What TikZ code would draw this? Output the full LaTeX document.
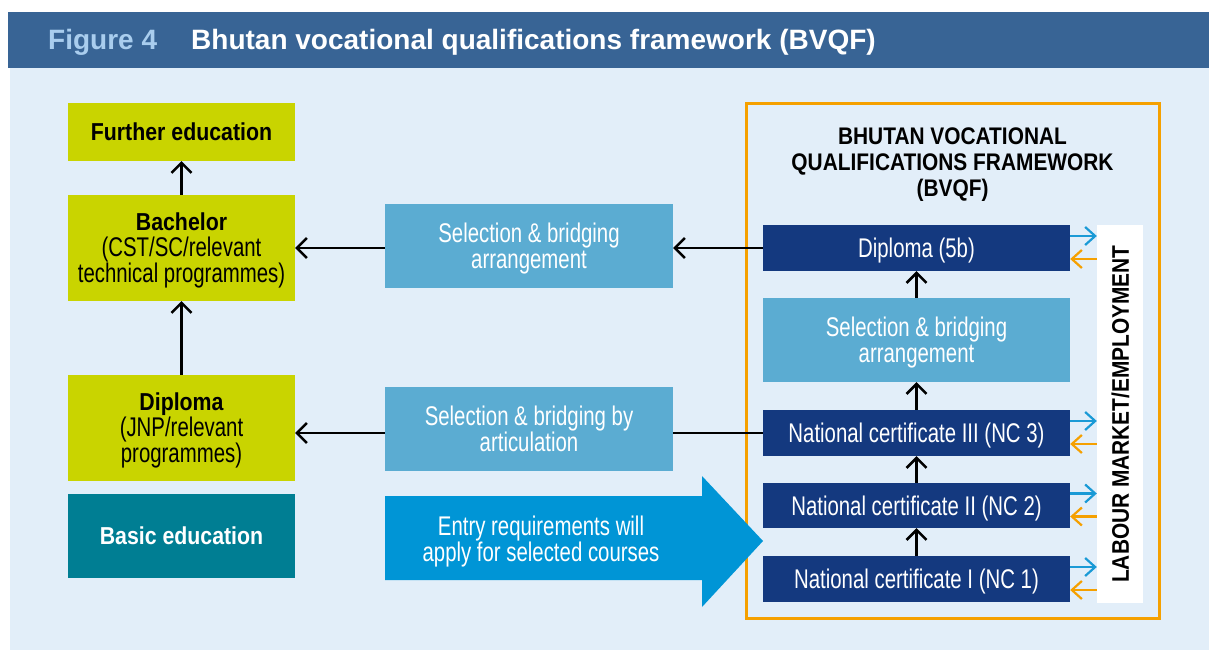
\documentclass[tikz,border=0pt]{standalone}
\usepackage{fontspec}
\setmainfont{Liberation Sans}[FakeStretch=0.755]
\newfontfamily\bdc{Liberation Sans}[FakeStretch=0.87]
\newfontfamily\hdr{Liberation Sans}
\usetikzlibrary{arrows.meta}
\definecolor{hdrblue}{HTML}{386495}
\definecolor{figblue}{HTML}{A9CDEE}
\definecolor{bgblue}{HTML}{E2EEF9}
\definecolor{ygreen}{HTML}{C9D400}
\definecolor{teal}{HTML}{007E93}
\definecolor{lblue}{HTML}{5BACD2}
\definecolor{navy}{HTML}{14397F}
\definecolor{bigblue}{HTML}{0095D6}
\definecolor{orng}{HTML}{F5A000}
\definecolor{sblue}{HTML}{1A9AD6}
\tikzset{
  rgtext/.style={font=\fontsize{27}{26}\selectfont},
  bx/.style={inner sep=0pt, align=center, rgtext},
  ybox/.style={bx, fill=ygreen, text=black, minimum width=227pt},
  tbox/.style={bx, fill=teal, text=white, minimum width=227pt},
  lbox/.style={bx, fill=lblue, text=white, minimum width=288pt, minimum height=84pt},
  nbox/.style={bx, fill=navy, text=white, minimum width=307pt, minimum height=46pt},
  rone/.style={text height=19.3pt, text depth=0pt},
  rtwo/.style={text height=45.3pt, text depth=0pt},
  bone/.style={text height=17.5pt, text depth=0pt},
  bthree/.style={text height=69.5pt, text depth=0pt},
  conn/.style={draw=black, line width=2.5pt, -{Straight Barb[length=10pt,width=20pt,line width=2.5pt]}},
  plainconn/.style={draw=black, line width=2.5pt},
  outarr/.style={draw=sblue, line width=2.2pt, -{Straight Barb[length=10pt,width=18pt,line width=2.2pt]}},
  inarr/.style={draw=orng, line width=2.2pt, -{Straight Barb[length=10pt,width=18pt,line width=2.2pt]}},
}
\newcommand{\bdtext}{\bdc\bfseries\fontsize{24.5}{26}\selectfont}
\begin{document}
\begin{tikzpicture}[x=1pt,y=-1pt]
\useasboundingbox (0,0) rectangle (1209,650);
% background
\fill[white] (0,0) rectangle (1209,650);
\fill[bgblue] (10,68) rectangle (1209,650);
\fill[hdrblue] (8,12) rectangle (1209,68);
\node[anchor=base west, inner sep=0pt, text=figblue, font=\hdr\bfseries\fontsize{28}{30}\selectfont] (fig) at (48,50) {Figure 4};
\node[anchor=base west, inner sep=0pt, text=white, font=\hdr\bfseries\fontsize{28}{30}\selectfont] (ttl) at (191,50) {Bhutan vocational qualifications framework (BVQF)};

% left column
\node[ybox, bone, minimum height=58pt] (further) at (181.5,132) {{\bdtext Further education}};
\node[ybox, bthree, minimum height=106pt] (bach) at (181.5,248) {{\bdtext Bachelor}\\(CST/SC/relevant\\technical programmes)};
\node[ybox, bthree, minimum height=106pt] (dipl) at (181.5,428) {{\bdtext Diploma}\\(JNP/relevant\\programmes)};
\node[tbox, bone, minimum height=84pt] (basic) at (181.5,536) {{\bdtext Basic education}};

% middle
\node[lbox, rtwo] (sel1) at (529,246) {Selection \& bridging\\arrangement};
\node[lbox, rtwo] (sel2) at (529,429) {Selection \& bridging by\\articulation};

% frame
\draw[orng, line width=3pt] (746,104) rectangle (1159,618);
\node[inner sep=0pt, align=center, text=black, text height=69.2pt, text depth=0pt, font=\bdc\bfseries\fontsize{24}{26}\selectfont] (bvqf) at (952.5,162) {BHUTAN VOCATIONAL\\QUALIFICATIONS FRAMEWORK\\(BVQF)};

\node[nbox, rone] (dip5b) at (916.5,248) {Diploma (5b)};
\node[lbox, rtwo, minimum width=307pt] (sel3) at (916.5,340) {Selection \& bridging\\arrangement};
\node[nbox, rone] (nc3) at (916.5,433) {National certificate III (NC 3)};
\node[nbox, rone, minimum height=45pt] (nc2) at (916.5,505.5) {National certificate II (NC 2)};
\node[nbox, rone] (nc1) at (916.5,579) {National certificate I (NC 1)};

% labour bar
\node[fill=white, minimum width=46pt, minimum height=378pt, inner sep=0pt] (lab) at (1120,414) {};
\node[rotate=90, inner sep=0pt, text height=17.5pt, text depth=0pt, text=black, font=\bdc\bfseries\fontsize{24}{26}\selectfont] (labt) at (lab.center) {LABOUR MARKET/EMPLOYMENT};

% big arrow
\fill[bigblue] (385,496) -- (702,496) -- (702,476) -- (763,541) -- (702,607) -- (702,580) -- (385,580) -- cycle;
\node[align=center, text=white, inner sep=0pt, rgtext, rtwo] (entry) at (541,539) {Entry requirements will\\apply for selected courses};

% connectors left
\draw[conn] (bach.north) -- (further.south);
\draw[conn] (dipl.north) -- (bach.south);
\draw[conn] (sel1.west |- dip5b.west) -- (bach.east |- dip5b.west);
\draw[conn] (dip5b.west) -- (sel1.east |- dip5b.west);
\draw[conn] (sel2.west |- nc3.west) -- (dipl.east |- nc3.west);
\draw[plainconn] (nc3.west) -- (sel2.east |- nc3.west);

% column connectors
\draw[conn] (nc1.north) -- (nc2.south);
\draw[conn] (nc2.north) -- (nc3.south);
\draw[conn] (nc3.north) -- (sel3.south);
\draw[conn] (sel3.north) -- (dip5b.south);

% labour market arrows
\foreach \b in {dip5b,nc3,nc2,nc1}{
  \draw[outarr] ([yshift=12pt]\b.east) -- ([yshift=12pt]\b.east -| lab.west);
  \draw[inarr] ([yshift=-11pt]\b.east -| lab.west) -- ([yshift=-11pt]\b.east);
}
\end{tikzpicture}
\end{document}
